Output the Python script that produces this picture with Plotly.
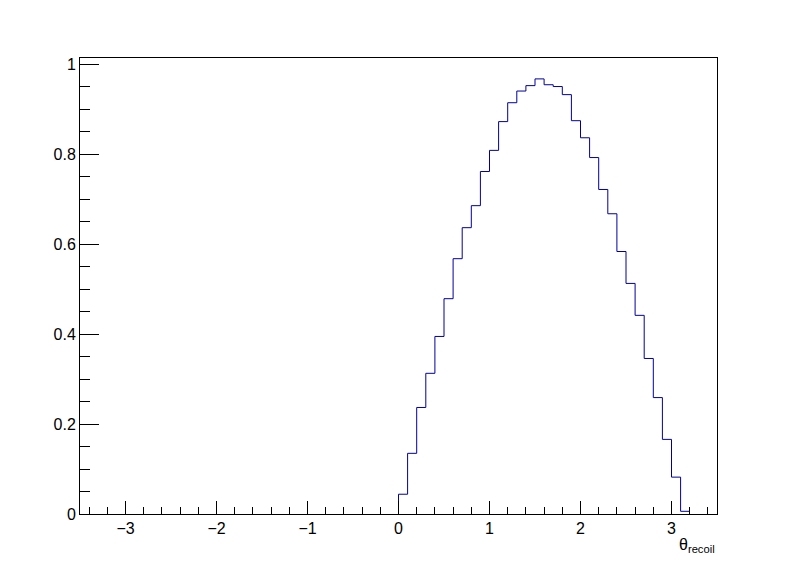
import numpy as np
import plotly.graph_objs as go

# histogram: 70 bins on [-3.5, 3.5], only bins from 0 to 3.2 are filled
bin_low = 0.0
bin_width = 0.1
contents = [0.044, 0.135, 0.237, 0.313, 0.395, 0.479, 0.568, 0.637,
            0.686, 0.762, 0.809, 0.873, 0.915, 0.941, 0.953, 0.968,
            0.955, 0.951, 0.933, 0.875, 0.837, 0.793, 0.722, 0.668,
            0.584, 0.513, 0.442, 0.346, 0.259, 0.166, 0.082, 0.006]
x_range = [-3.5, 3.5]
y_range = [0, 1.0145]

edges = bin_low + bin_width * np.arange(len(contents) + 1)
xs = [edges[0]] + list(edges)
ys = [0] + contents + [contents[-1]]

hist = go.Scatter(x=xs, y=ys, mode='lines', line_shape='hv',
                  line=dict(color='#000099', width=1), hoverinfo='skip')

font = dict(family='Liberation Sans, Arial, sans-serif', size=16, color='black')

# the page body adds 8px on the left/top, margins allow for it
layout = go.Layout(
    width=796, height=572,
    margin=dict(l=72, r=87, t=50, b=66),
    paper_bgcolor='white', plot_bgcolor='white',
    showlegend=False,
    font=font,
    xaxis=dict(range=x_range, showgrid=False, zeroline=False,
               showline=True, linecolor='black', linewidth=1, mirror=True,
               ticks='inside', ticklen=13, tickcolor='black', tickwidth=1,
               dtick=1, tick0=0, tickfont=font,
               minor=dict(ticks='inside', ticklen=7, dtick=0.2, tick0=0,
                          tickcolor='black', tickwidth=1, showgrid=False)),
    yaxis=dict(range=y_range, showgrid=False, zeroline=False,
               showline=True, linecolor='black', linewidth=1, mirror=True,
               ticks='inside', ticklen=19, tickcolor='black', tickwidth=1,
               dtick=0.2, tick0=0, tickfont=font,
               minor=dict(ticks='inside', ticklen=10, dtick=0.05, tick0=0,
                          tickcolor='black', tickwidth=1, showgrid=False)),
    annotations=[dict(text='θ<sub>recoil</sub>', xref='paper', yref='paper',
                      x=1, y=0, xanchor='right', yanchor='top', yshift=-20,
                      showarrow=False, font=font)],
)

fig = go.Figure(data=[hist], layout=layout)
fig.write_html("out.html")
